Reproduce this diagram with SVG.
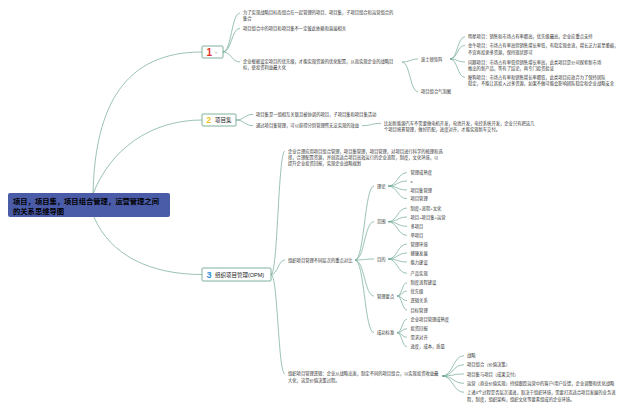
<svg xmlns="http://www.w3.org/2000/svg" width="640" height="411" viewBox="0 0 640 411">
<style>
.t{font-family:"Liberation Sans","Noto Sans CJK SC",sans-serif;font-size:4.3px;fill:#333;dominant-baseline:central}
.nl{font-family:"Liberation Sans","Noto Sans CJK SC",sans-serif;font-size:5.5px;fill:#222;dominant-baseline:central}
.num{font-family:"Liberation Sans","Noto Sans CJK SC",sans-serif;font-weight:bold;dominant-baseline:central}
.c{fill:none;stroke:#6fa797;stroke-width:0.7}
.box{fill:#fff;stroke:#5e9f86;stroke-width:0.8}
</style>
<rect width="640" height="411" fill="#fff"/>
<g id="connectors">
<path class="c" d="M93,194 C95,105 125,52 202,52"/>
<path class="c" d="M93,194 C110,150 150,120 202,120"/>
<path class="c" d="M94,217 C110,255 150,274.5 202,274.5"/>
<path class="c" d="M223,52 C231.5,52 231.5,13 240,13"/>
<path class="c" d="M223,52 C231.5,52 231.5,28.3 240,28.3"/>
<path class="c" d="M223,52 C231.5,52 231.5,62 240,62"/>
<path class="c" d="M402,62 C410,62 410,59 418,59"/>
<path class="c" d="M402,62 C410,62 410,91.7 418,91.7"/>
<path class="c" d="M450,59 C457.5,59 457.5,36.7 465,36.7"/>
<path class="c" d="M450,59 C457.5,59 457.5,45.3 465,45.3"/>
<path class="c" d="M450,59 C457.5,59 457.5,62 465,62"/>
<path class="c" d="M450,59 C457.5,59 457.5,77.3 465,77.3"/>
<path class="c" d="M236,120 C244.5,120 244.5,114.3 253,114.3"/>
<path class="c" d="M236,120 C244.5,120 244.5,125.7 253,125.7"/>
<path class="c" d="M362,125.7 C371,125.7 372,123.3 381,123.3"/>
<path class="c" d="M271,274.5 C278,274.5 278,151 285,151"/>
<path class="c" d="M271,274.5 C278,274.5 278,260 285,260"/>
<path class="c" d="M271,274.5 C278,274.5 278,374 285,374"/>
<path class="c" d="M355,260 C364.5,260 364.5,186 374,186"/>
<path class="c" d="M355,260 C364.5,260 364.5,221.7 374,221.7"/>
<path class="c" d="M355,260 C364.5,260 364.5,259 374,259"/>
<path class="c" d="M355,260 C364.5,260 364.5,296 374,296"/>
<path class="c" d="M355,260 C364.5,260 364.5,332.7 374,332.7"/>
<path class="c" d="M388,186 C397.5,186 397.5,172.7 407,172.7"/>
<path class="c" d="M388,186 C397.5,186 397.5,181 407,181"/>
<path class="c" d="M388,186 C397.5,186 397.5,190 407,190"/>
<path class="c" d="M388,186 C397.5,186 397.5,198.7 407,198.7"/>
<path class="c" d="M388,221.7 C397.5,221.7 397.5,208 407,208"/>
<path class="c" d="M388,221.7 C397.5,221.7 397.5,217 407,217"/>
<path class="c" d="M388,221.7 C397.5,221.7 397.5,226.3 407,226.3"/>
<path class="c" d="M388,221.7 C397.5,221.7 397.5,235.3 407,235.3"/>
<path class="c" d="M388,259 C397.5,259 397.5,244 407,244"/>
<path class="c" d="M388,259 C397.5,259 397.5,253 407,253"/>
<path class="c" d="M388,259 C397.5,259 397.5,262 407,262"/>
<path class="c" d="M388,259 C397.5,259 397.5,273.3 407,273.3"/>
<path class="c" d="M397,296 C402,296 402,282.7 407,282.7"/>
<path class="c" d="M397,296 C402,296 402,291 407,291"/>
<path class="c" d="M397,296 C402,296 402,300.7 407,300.7"/>
<path class="c" d="M397,296 C402,296 402,310 407,310"/>
<path class="c" d="M397,332.7 C402,332.7 402,319.3 407,319.3"/>
<path class="c" d="M397,332.7 C402,332.7 402,328.7 407,328.7"/>
<path class="c" d="M397,332.7 C402,332.7 402,337.3 407,337.3"/>
<path class="c" d="M397,332.7 C402,332.7 402,346.7 407,346.7"/>
<path class="c" d="M442,376 C453,376 453,355.7 464,355.7"/>
<path class="c" d="M442,376 C453,376 453,364.7 464,364.7"/>
<path class="c" d="M442,376 C453,376 453,374 464,374"/>
<path class="c" d="M442,376 C453,376 453,383.3 464,383.3"/>
<path class="c" d="M442,376 C453,376 453,392.3 464,392.3"/>
</g>
<g id="root">
<rect x="8" y="193" width="162" height="24" rx="2" fill="#4a5ba8"/>
<text x="13" y="201" style="font-family:'Liberation Sans','Noto Sans CJK SC',sans-serif;font-size:7.3px;font-weight:bold;fill:#000;dominant-baseline:central">项目，项目集，项目组合管理，运营管理之间</text>
<text x="13" y="211.7" style="font-family:'Liberation Sans','Noto Sans CJK SC',sans-serif;font-size:7.3px;font-weight:bold;fill:#000;dominant-baseline:central">的关系思维导图</text>
</g>
<g id="node1">
<rect class="box" x="202" y="46" width="21" height="12" rx="1"/>
<text class="num" x="206.5" y="52.3" style="font-size:10px;fill:#e0302a">1</text>
<text class="t" x="215" y="52.5" style="font-size:4px;fill:#777">≈</text>
</g>
<g id="n1c1"><text class="t" x="243" y="12.7">为了实现战略目标而组合在一起管理的项目、项目集，子项目组合和运营组合的</text><text class="t" x="243" y="18.5">集合</text></g>
<g id="n1c2"><text class="t" x="243" y="28.3">项目组合中的项目和项目集不一定彼此依赖和直接相关</text></g>
<g id="n1c3"><text class="t" x="243" y="61.7">企业根据设定项目的优先级，才能实现资源的优化配置，从而实现企业的战略目</text><text class="t" x="243" y="67.7">标，使投资利益最大化</text></g>
<g id="bcg"><text class="t" x="421" y="59">波士顿矩阵</text></g>
<g id="bubble"><text class="t" x="421" y="91.7">项目组合气泡图</text></g>
<g id="star"><text class="t" x="468" y="36.7">明星项目：销售和市场占有率都高，优先级最高，企业应重点支持</text></g>
<g id="cow"><text class="t" x="468" y="45.3">金牛项目：市场占有率高但销售增长率低，有稳定现金流，增长乏力甚至萎缩，</text><text class="t" x="468" y="52">不宜再投更多资源，保持现状即可</text></g>
<g id="question"><text class="t" x="468" y="62">问题项目：市场占有率低但销售增长率高，此类项目是公司探索新市场</text><text class="t" x="468" y="68.7">推出的新产品，等有了结论，再专门投资验证</text></g>
<g id="dog"><text class="t" x="468" y="77.3">瘦狗项目：市场占有率和销售增长率都低，此类项目应放弃为了保持团队</text><text class="t" x="468" y="83.3">稳定，不能让其投入过多资源，如果不做可能会影响团队稳定和企业战略安全</text></g>
<g id="node2">
<rect class="box" x="202" y="114" width="34" height="12" rx="1"/>
<text class="num" x="206.5" y="120.3" style="font-size:8.5px;fill:#f2c21b">2</text>
<text class="nl" x="215" y="120.3">项目集</text>
</g>
<g id="n2c1"><text class="t" x="256" y="114.3">项目集是一组相互关联且被协调的项目，子项目集和项目集活动</text></g>
<g id="n2c2"><text class="t" x="256" y="125.7">通过项目集管理，可以获得分别管理所无法实现的效益</text></g>
<g id="n2c2a"><text class="t" x="384" y="123.3">比如新能源汽车不需要做电机开发，电池开发，电控系统开发，企业只有把这几</text><text class="t" x="384" y="129.5">个项目统筹管理，做好匹配，进度对齐，才能实现新车交付。</text></g>
<g id="node3">
<rect class="box" x="202" y="268" width="69" height="13" rx="1"/>
<text class="num" x="206.5" y="274.8" style="font-size:9px;fill:#2a8fd6">3</text>
<text class="nl" x="215" y="274.8">组织项目管理(OPM)</text>
</g>
<g id="n3c1"><text class="t" x="288" y="151">企业合理应用项目组合管理，项目集管理，项目管理，对项目进行科学的梳理和选</text><text class="t" x="288" y="157.2">择，合理配置资源，并创造适合项目高效运行的企业流程，制度，文化环境，以</text><text class="t" x="288" y="163.3">提升企业投资回报，实现企业战略规划</text></g>
<g id="n3c2"><text class="t" x="288" y="260">组织项目管理不同层次的重点对比</text></g>
<g id="theory"><text class="t" x="377" y="186">理论</text></g>
<g id="scope"><text class="t" x="377" y="221.7">范围</text></g>
<g id="goal"><text class="t" x="377" y="259">目的</text></g>
<g id="keys"><text class="t" x="377" y="296">管理要点</text></g>
<g id="success"><text class="t" x="377" y="332.7">成功标准</text></g>
<g id="theory-items">
<text class="t" x="410.5" y="172.7">管理成熟度</text>
<text class="t" x="410.5" y="181">v</text>
<text class="t" x="410.5" y="190">项目集管理</text>
<text class="t" x="410.5" y="198.7">项目管理</text>
</g>
<g id="scope-items">
<text class="t" x="410.5" y="208">制度+流程+文化</text>
<text class="t" x="410.5" y="217">项目+项目集+运营</text>
<text class="t" x="410.5" y="226.3">多项目</text>
<text class="t" x="410.5" y="235.3">单项目</text>
</g>
<g id="goal-items">
<text class="t" x="410.5" y="244">管理环境</text>
<text class="t" x="410.5" y="253">健康发展</text>
<text class="t" x="410.5" y="262">能力建设</text>
<text class="t" x="410.5" y="273.3">产品实现</text>
</g>
<g id="keys-items">
<text class="t" x="410.5" y="282.7">制度流程建设</text>
<text class="t" x="410.5" y="291">优先级</text>
<text class="t" x="410.5" y="300.7">逻辑关系</text>
<text class="t" x="410.5" y="310">目标管理</text>
</g>
<g id="success-items">
<text class="t" x="410.5" y="319.3">企业项目管理成熟度</text>
<text class="t" x="410.5" y="328.7">投资回报</text>
<text class="t" x="410.5" y="337.3">需求对齐</text>
<text class="t" x="410.5" y="346.7">进度，成本，质量</text>
</g>
<g id="n3c3"><text class="t" x="288" y="373.5">组织项目管理逻辑：企业从战略出发，制定不同的项目组合，以实现投资收益最</text><text class="t" x="288" y="380.3">大化，这是价值决策过程。</text></g>
<g id="logic-items">
<text class="t" x="467" y="355.7">战略</text>
<text class="t" x="467" y="364.7">项目组合（价值决策）</text>
<text class="t" x="467" y="374">项目集与项目（成果交付）</text>
<text class="t" x="467" y="383.3">运营（商业价值实现）持续跟踪运营中的客户/用户反馈，企业调整和优化战略</text>
<text class="t" x="467" y="392.3">上述4个过程是否层次递进，取决于组织环境，需要打造适合项目发展的业务流</text>
<text class="t" x="467" y="399">程，制度，组织架构，组织文化等要素组成的企业环境。</text>
</g>
</svg>
